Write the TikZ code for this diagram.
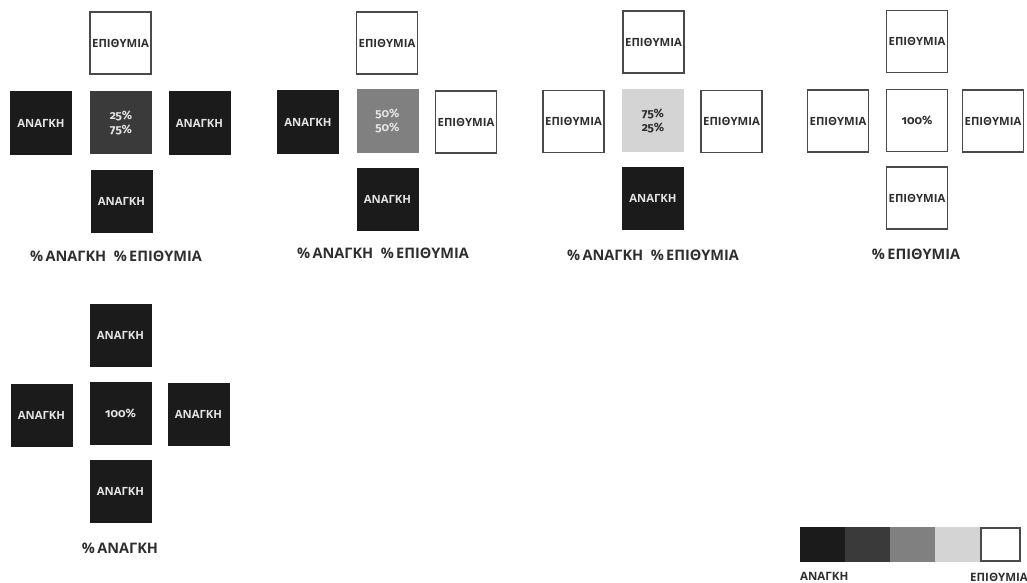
\documentclass[tikz,border=0pt]{standalone}
\usepackage{fontspec}
\setmainfont{Open Sans}
\newfontfamily\numfont[Numbers=OldStyle]{Fira Sans}
\definecolor{ndark}{HTML}{1B1B1B}
\definecolor{ng1}{HTML}{3A3A3A}
\definecolor{ng2}{HTML}{808080}
\definecolor{ng3}{HTML}{D4D4D4}
\definecolor{nline}{HTML}{4A4A4A}
\definecolor{ntxtd}{HTML}{2E2E2E}
\definecolor{ntxtl}{HTML}{E4E4E4}
\tikzset{
  x=1pt,y=-1pt,
  sq/.style={minimum width=62pt,minimum height=63pt,inner sep=0pt,outer sep=0pt,
    font=\bfseries\fontsize{11.3}{13}\selectfont,align=center},
  dbox/.style={sq,fill=ndark,text=ntxtl},
  wbox/.style={sq,draw=nline,line width=1.4pt,fill=white,text=ntxtd,
    minimum width=61pt,minimum height=62pt},
  cbox/.style={sq,font=\numfont\bfseries\fontsize{12}{14}\selectfont},
  caption/.style={font=\bfseries\fontsize{14.5}{16}\selectfont,text=ntxtd,inner sep=0pt},
  leg/.style={minimum width=45pt,minimum height=35pt,inner sep=0pt,outer sep=0pt,anchor=north west},
  leglabel/.style={font=\bfseries\fontsize{11.5}{12}\selectfont,text=ntxtd,inner sep=0pt}
}
\begin{document}
\begin{tikzpicture}
\useasboundingbox (0,0) rectangle (1027,583);
% group 1
\node[wbox] (a1t) at (120.5,43) {ΕΠΙΘΥΜΙΑ};
\node[dbox] (a1l) at (41,123) {ΑΝΑΓΚΗ};
\node[cbox,fill=ng1,text=ntxtl] (a1c) at (121,122.5) {25\%\\75\%};
\node[dbox] (a1r) at (199.5,123) {ΑΝΑΓΚΗ};
\node[dbox] (a1b) at (121.5,201) {ΑΝΑΓΚΗ};
\node[caption] (a1cap) at (116,256) {\%\,ΑΝΑΓΚΗ\ \ \%\,ΕΠΙΘΥΜΙΑ};
% group 2
\node[wbox] (a2t) at (387,43) {ΕΠΙΘΥΜΙΑ};
\node[dbox] (a2l) at (308,122) {ΑΝΑΓΚΗ};
\node[cbox,fill=ng2,text=ntxtl] (a2c) at (387.5,121) {50\%\\50\%};
\node[wbox] (a2r) at (466,122) {ΕΠΙΘΥΜΙΑ};
\node[dbox] (a2b) at (387.5,199) {ΑΝΑΓΚΗ};
\node[caption] (a2cap) at (383,253) {\%\,ΑΝΑΓΚΗ\ \ \%\,ΕΠΙΘΥΜΙΑ};
% group 3
\node[wbox] (a3t) at (653.5,42) {ΕΠΙΘΥΜΙΑ};
\node[wbox] (a3l) at (573.5,121.5) {ΕΠΙΘΥΜΙΑ};
\node[cbox,fill=ng3,text=ntxtd] (a3c) at (653,120.5) {75\%\\25\%};
\node[wbox] (a3r) at (731.5,121.5) {ΕΠΙΘΥΜΙΑ};
\node[dbox] (a3b) at (653,198.5) {ΑΝΑΓΚΗ};
\node[caption] (a3cap) at (653,255) {\%\,ΑΝΑΓΚΗ\ \ \%\,ΕΠΙΘΥΜΙΑ};
% group 4
\node[wbox] (a4t) at (917,41.5) {ΕΠΙΘΥΜΙΑ};
\node[wbox] (a4l) at (838,121) {ΕΠΙΘΥΜΙΑ};
\node[wbox,font=\numfont\bfseries\fontsize{12}{14}\selectfont] (a4c) at (917,120.5) {100\%};
\node[wbox] (a4r) at (993,121) {ΕΠΙΘΥΜΙΑ};
\node[wbox] (a4b) at (917,198) {ΕΠΙΘΥΜΙΑ};
\node[caption] (a4cap) at (916,254) {\%\,ΕΠΙΘΥΜΙΑ};
% group 5
\node[dbox] (a5t) at (120.5,335) {ΑΝΑΓΚΗ};
\node[dbox] (a5l) at (41.5,415) {ΑΝΑΓΚΗ};
\node[cbox,fill=ndark,text=ntxtl] (a5c) at (120.5,413.5) {100\%};
\node[dbox] (a5r) at (198.5,414) {ΑΝΑΓΚΗ};
\node[dbox] (a5b) at (120.5,491) {ΑΝΑΓΚΗ};
\node[caption] (a5cap) at (120,548) {\%\,ΑΝΑΓΚΗ};
% legend
\node[leg,fill=ndark] (l1) at (800,527) {};
\node[leg,fill=ng1] (l2) at (845,527) {};
\node[leg,fill=ng2] (l3) at (890,527) {};
\node[leg,fill=ng3] (l4) at (935,527) {};
\node[leg,draw=nline,line width=1.4pt,fill=white,minimum width=39pt,minimum height=33pt] (l5) at (981,528) {};
\node[leglabel,anchor=west] (ll1) at (800,576) {ΑΝΑΓΚΗ};
\node[leglabel,anchor=west] (ll2) at (970,577) {ΕΠΙΘΥΜΙΑ};
\end{tikzpicture}
\end{document}
